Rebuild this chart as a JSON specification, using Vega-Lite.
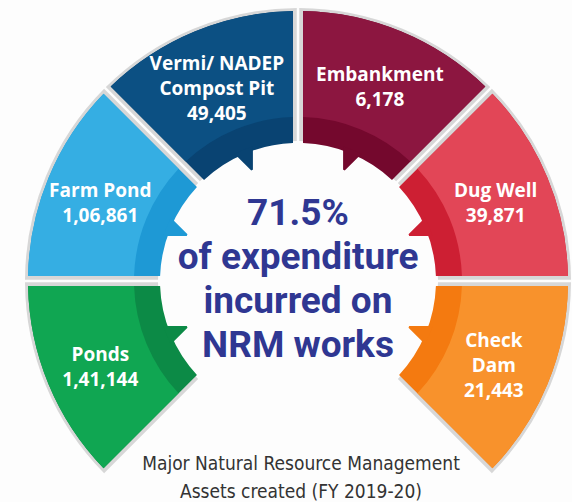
{
  "$schema": "https://vega.github.io/schema/vega-lite/v6.json",
  "width": 548,
  "height": 318,
  "autosize": {"type": "none"},
  "padding": {"left": 24, "top": 122, "right": 0, "bottom": 62},
  "background": "#fdfdfd",
  "config": {"view": {"stroke": null}},
  "title": {
    "text": ["Major Natural Resource Management", "Assets created (FY 2019-20)"],
    "orient": "bottom",
    "anchor": "middle",
    "offset": -18,
    "dx": 3,
    "font": "Liberation Sans Narrow, Noto Sans Condensed, DejaVu Sans Condensed, sans-serif",
    "fontSize": 19,
    "fontWeight": "normal",
    "color": "#333333",
    "lineHeight": 28
  },
  "resolve": {"scale": {"theta": "independent"}},
  "datasets": {
    "assets": [
      {"asset": "Ponds", "assets_created": 141144, "display": "Ponds\n1,41,144", "rank": 1},
      {"asset": "Farm Pond", "assets_created": 106861, "display": "Farm Pond\n1,06,861", "rank": 2},
      {"asset": "Vermi/ NADEP Compost Pit", "assets_created": 49405, "display": "Vermi/ NADEP\nCompost Pit\n49,405", "rank": 3},
      {"asset": "Embankment", "assets_created": 6178, "display": "Embankment\n6,178", "rank": 4},
      {"asset": "Dug Well", "assets_created": 39871, "display": "Dug Well\n39,871", "rank": 5},
      {"asset": "Check Dam", "assets_created": 21443, "display": "Check\nDam\n21,443", "rank": 6}
    ]
  },
  "layer": [
    {
      "data": {"name": "assets"},
      "mark": {"type": "arc", "innerRadius": 140, "outerRadius": 273, "padAngle": 0.008, "color": "#b8b8b8", "opacity": 0.55},
      "encoding": {
        "theta": {"aggregate": "count", "type": "quantitative", "stack": true, "scale": {"range": [-2.35619, 2.35619]}},
        "order": {"field": "rank", "type": "quantitative"},
        "detail": {"field": "asset", "type": "nominal"}
      }
    },
    {
      "data": {"name": "assets"},
      "mark": {"type": "arc", "innerRadius": 138, "outerRadius": 270, "padAngle": 0.033},
      "encoding": {
        "theta": {"aggregate": "count", "type": "quantitative", "stack": true, "scale": {"range": [-2.35619, 2.35619]}},
        "order": {"field": "rank", "type": "quantitative"},
        "fill": {
          "field": "asset", "type": "nominal", "legend": null,
          "scale": {
            "domain": ["Ponds", "Farm Pond", "Vermi/ NADEP Compost Pit", "Embankment", "Dug Well", "Check Dam"],
            "range": ["#0c8a46", "#1e99d5", "#094372", "#74082d", "#cd1f33", "#f47a10"]
          }
        }
      }
    },
    {
      "data": {"name": "assets"},
      "mark": {"type": "arc", "innerRadius": 120, "outerRadius": 142, "padAngle": 0.49},
      "encoding": {
        "theta": {"aggregate": "count", "type": "quantitative", "stack": true, "scale": {"range": [-2.35619, 2.35619]}},
        "order": {"field": "rank", "type": "quantitative"},
        "fill": {"field": "asset", "type": "nominal", "legend": null}
      }
    },
    {
      "data": {"name": "assets"},
      "mark": {"type": "arc", "innerRadius": 164, "outerRadius": 270, "padAngle": 0.032},
      "encoding": {
        "theta": {"aggregate": "count", "type": "quantitative", "stack": true, "scale": {"range": [-2.35619, 2.35619]}},
        "order": {"field": "rank", "type": "quantitative"},
        "color": {
          "field": "asset", "type": "nominal", "legend": null,
          "scale": {
            "domain": ["Ponds", "Farm Pond", "Vermi/ NADEP Compost Pit", "Embankment", "Dug Well", "Check Dam"],
            "range": ["#10a652", "#35aee3", "#0c5083", "#8c1640", "#e24657", "#f8922c"]
          }
        }
      }
    },
    {
      "data": {"name": "assets"},
      "transform": [{"filter": {"field": "asset", "oneOf": ["Ponds", "Farm Pond", "Embankment", "Dug Well"]}}],
      "mark": {"type": "text", "radius": 214, "dy": -8, "font": "Open Sans", "fontWeight": "bold", "fontSize": 19, "lineHeight": 25, "lineBreak": "\n", "color": "#ffffff", "align": "center", "baseline": "middle"},
      "encoding": {
        "theta": {"field": "rank", "type": "quantitative", "stack": null, "scale": {"domain": [0.5, 6.5], "range": [-2.35619, 2.35619], "zero": false, "nice": false}},
        "text": {"field": "display", "type": "nominal"}
      }
    },
    {
      "data": {"name": "assets"},
      "transform": [{"filter": {"field": "asset", "oneOf": ["Vermi/ NADEP Compost Pit", "Check Dam"]}}],
      "mark": {"type": "text", "radius": 212, "dy": -21, "font": "Open Sans", "fontWeight": "bold", "fontSize": 19, "lineHeight": 25, "lineBreak": "\n", "color": "#ffffff", "align": "center", "baseline": "middle"},
      "encoding": {
        "theta": {"field": "rank", "type": "quantitative", "stack": null, "scale": {"domain": [0.5, 6.5], "range": [-2.35619, 2.35619], "zero": false, "nice": false}},
        "text": {"field": "display", "type": "nominal"}
      }
    },
    {
      "data": {"values": [{"headline": "71.5%\nof expenditure\nincurred on\nNRM works"}]},
      "mark": {"type": "text", "font": "Roboto", "fontWeight": "bold", "fontSize": 37, "lineHeight": 44, "lineBreak": "\n", "color": "#2f3792", "align": "center", "baseline": "middle", "dy": -67},
      "encoding": {
        "text": {"field": "headline", "type": "nominal"}
      }
    }
  ]
}
